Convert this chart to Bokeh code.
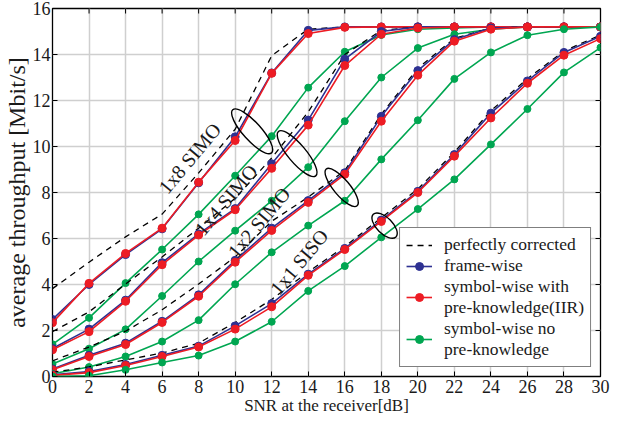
from bokeh.plotting import figure
from bokeh.models import Legend, LegendItem, FixedTicker, Range1d
from bokeh.embed import file_html
from bokeh.resources import INLINE
from bokeh.core.properties import value
import math

snr = [0, 2, 4, 6, 8, 10, 12, 14, 16, 18, 20, 22, 24, 26, 28, 30]

# 1x8 SIMO
perf_1x8 = [3.82, 4.97, 6.07, 7.06, 8.85, 10.75, 13.95, 15.1, 15.2, 15.2, 15.2, 15.2, 15.2, 15.2, 15.2, 15.2]
frame_1x8 = [2.48, 4.0, 5.3, 6.42, 8.42, 10.42, 13.2, 15.05, 15.2, 15.2, 15.2, 15.2, 15.2, 15.2, 15.2, 15.2]
sym_1x8 = [2.34, 4.05, 5.35, 6.45, 8.45, 10.26, 13.18, 14.91, 15.18, 15.2, 15.2, 15.2, 15.2, 15.2, 15.2, 15.2]
nopk_1x8 = [1.40, 2.55, 4.06, 5.52, 7.05, 8.73, 10.45, 12.56, 14.12, 14.85, 15.1, 15.15, 15.2, 15.2, 15.2, 15.2]

# 1x4 SIMO
perf_1x4 = [1.95, 2.81, 4.02, 5.2, 6.45, 7.75, 9.5, 11.5, 14.0, 15.05, 15.2, 15.2, 15.2, 15.2, 15.2, 15.2]
frame_1x4 = [1.22, 2.06, 3.32, 4.95, 6.2, 7.3, 9.25, 11.15, 13.8, 15.0, 15.2, 15.2, 15.2, 15.2, 15.2, 15.2]
sym_1x4 = [1.16, 1.95, 3.27, 4.86, 6.15, 7.25, 9.05, 10.93, 13.52, 14.88, 15.15, 15.2, 15.2, 15.2, 15.2, 15.2]
nopk_1x4 = [0.54, 1.21, 2.05, 3.5, 5.0, 6.34, 7.64, 9.1, 11.1, 13.0, 14.28, 14.88, 15.1, 15.2, 15.2, 15.2]

# 1x2 SIMO
perf_1x2 = [0.68, 1.28, 1.97, 2.9, 4.02, 5.2, 6.75, 7.8, 8.95, 11.4, 13.4, 14.7, 15.15, 15.2, 15.2, 15.2]
frame_1x2 = [0.33, 0.92, 1.45, 2.4, 3.55, 5.05, 6.45, 7.65, 8.86, 11.31, 13.3, 14.65, 15.15, 15.2, 15.2, 15.2]
sym_1x2 = [0.29, 0.87, 1.39, 2.35, 3.49, 4.97, 6.35, 7.57, 8.79, 11.1, 13.1, 14.58, 15.1, 15.2, 15.2, 15.2]
nopk_1x2 = [0.12, 0.41, 0.87, 1.52, 2.45, 4.01, 5.4, 6.56, 7.64, 9.44, 11.14, 12.94, 14.09, 14.84, 15.1, 15.2]

# 1x1 SISO
perf_1x1 = [0.18, 0.42, 0.72, 1.02, 1.45, 2.35, 3.35, 4.55, 5.65, 6.9, 8.15, 9.75, 11.55, 12.95, 14.15, 14.85]
frame_1x1 = [0.07, 0.22, 0.52, 0.92, 1.32, 2.2, 3.17, 4.45, 5.57, 6.8, 8.05, 9.65, 11.45, 12.85, 14.09, 14.79]
sym_1x1 = [0.05, 0.17, 0.48, 0.87, 1.28, 2.06, 3.03, 4.40, 5.52, 6.74, 8.0, 9.58, 11.24, 12.75, 13.97, 14.69]
nopk_1x1 = [0.0, 0.03, 0.29, 0.61, 0.91, 1.52, 2.38, 3.72, 4.8, 6.05, 7.28, 8.57, 10.09, 11.63, 13.22, 14.3]

x_ticks = list(range(0, 31, 2))
y_ticks = list(range(0, 17, 2))

series_names = ["perfectly corrected", "frame-wise",
                "symbol-wise with\npre-knowledge(IIR)",
                "symbol-wise no\npre-knowledge"]

# annotation texts and placements
group_labels = ["1x8 SIMO", "1x4 SIMO", "1x2 SIMO", "1x1 SISO"]
label_x = [7.51, 9.5, 11.3, 13.5]
label_y = [9.49, 7.68, 6.7, 4.98]
ell_x = [10.93, 13.39, 15.83, 18.18]
ell_y = [10.66, 9.69, 8.22, 6.56]
ell_w = [58, 58, 48, 32]
ell_h = [18, 18, 16, 16]
ell_a = [-48, -50, -50, -45]

BLUE = "#2E3192"
RED = "#ED1C24"
GREEN = "#00A651"
SERIF = "Liberation Serif"
TXT = "#1a1a1a"

p = figure(width=622, height=417, output_backend="svg", toolbar_location=None,
           x_range=Range1d(0, 30), y_range=Range1d(0, 16),
           min_border_left=40, min_border_right=22, min_border_top=8, min_border_bottom=0)

p.outline_line_color = "black"
p.outline_line_width = 1.3
p.background_fill_color = "white"
p.border_fill_color = "white"

for ax in [p.xaxis[0], p.yaxis[0]]:
    ax.axis_line_color = None
    ax.major_tick_in = 5
    ax.major_tick_out = 0
    ax.minor_tick_line_color = None
    ax.major_tick_line_color = "black"
    ax.major_label_text_font = SERIF
    ax.major_label_text_font_size = "18px"
    ax.major_label_text_color = TXT
    ax.axis_label_text_font = SERIF
    ax.axis_label_text_font_style = "normal"
    ax.axis_label_text_color = TXT

p.xaxis.major_label_standoff = 3
p.yaxis.major_label_standoff = 2
p.xaxis.ticker = FixedTicker(ticks=x_ticks)
p.yaxis.ticker = FixedTicker(ticks=y_ticks)
p.xaxis.axis_label = "SNR at the receiver[dB]"
p.yaxis.axis_label = "average throughput [Mbit/s]"
p.xaxis.axis_label_text_font_size = "17px"
p.yaxis.axis_label_text_font_size = "24px"
p.xaxis.axis_label_standoff = 0
p.yaxis.axis_label_standoff = 0

p.xgrid.ticker = FixedTicker(ticks=x_ticks)
p.ygrid.ticker = FixedTicker(ticks=y_ticks)
p.grid.grid_line_color = "#cfcfcf"
p.grid.grid_line_width = 1.5

# inward ticks on top and right edges of the frame
p.ray(x=x_ticks, y=[16] * len(x_ticks), length=5, length_units="screen",
      angle=-math.pi / 2, line_color="black", line_width=1)
p.ray(x=[30] * len(y_ticks), y=y_ticks, length=5, length_units="screen",
      angle=math.pi, line_color="black", line_width=1)

groups = [(perf_1x8, frame_1x8, sym_1x8, nopk_1x8),
          (perf_1x4, frame_1x4, sym_1x4, nopk_1x4),
          (perf_1x2, frame_1x2, sym_1x2, nopk_1x2),
          (perf_1x1, frame_1x1, sym_1x1, nopk_1x1)]

r_perf = r_fb = r_sb = r_nb = None
for perf, frame, sym, nopk in groups:
    r_perf = p.line(snr, perf, line_color="black", line_width=1.3, line_dash="6 5")
    l1 = p.line(snr, frame, line_color=BLUE, line_width=1.6)
    c1 = p.scatter(snr, frame, size=8, fill_color=BLUE, line_color=BLUE)
    l2 = p.line(snr, sym, line_color=RED, line_width=1.6)
    c2 = p.scatter(snr, sym, size=8, fill_color=RED, line_color=RED)
    l3 = p.line(snr, nopk, line_color=GREEN, line_width=1.6)
    c3 = p.scatter(snr, nopk, size=7, fill_color=GREEN, line_color=GREEN)
    r_fb, r_sb, r_nb = (l1, c1), (l2, c2), (l3, c3)

p.ellipse(x=ell_x, y=ell_y, width=ell_w, height=ell_h,
          angle=[math.radians(a) for a in ell_a],
          width_units="screen", height_units="screen",
          fill_alpha=0, line_color="black", line_width=1.4)

for t, lx, ly in zip(group_labels, label_x, label_y):
    p.text(x=[lx], y=[ly], text=[t], angle=math.radians(50),
           text_align="center", text_baseline="middle",
           text_font=value(SERIF), text_font_size="20px", text_color=TXT)

legend = Legend(items=[
    LegendItem(label=series_names[0], renderers=[r_perf]),
    LegendItem(label=series_names[1], renderers=list(r_fb)),
    LegendItem(label=series_names[2], renderers=list(r_sb)),
    LegendItem(label=series_names[3], renderers=list(r_nb)),
], location="bottom_right")
legend.border_line_color = "black"
legend.border_line_width = 1.3
legend.background_fill_alpha = 1
legend.label_text_font = SERIF
legend.label_text_font_size = "17.5px"
legend.label_text_color = TXT
legend.label_text_line_height = 0.85
legend.label_height = 20
legend.glyph_height = 20
legend.glyph_width = 26
legend.label_standoff = 12
legend.padding = 6
legend.spacing = 0
legend.margin = 9
p.add_layout(legend)

open("out.html", "w").write(file_html(p, INLINE))
